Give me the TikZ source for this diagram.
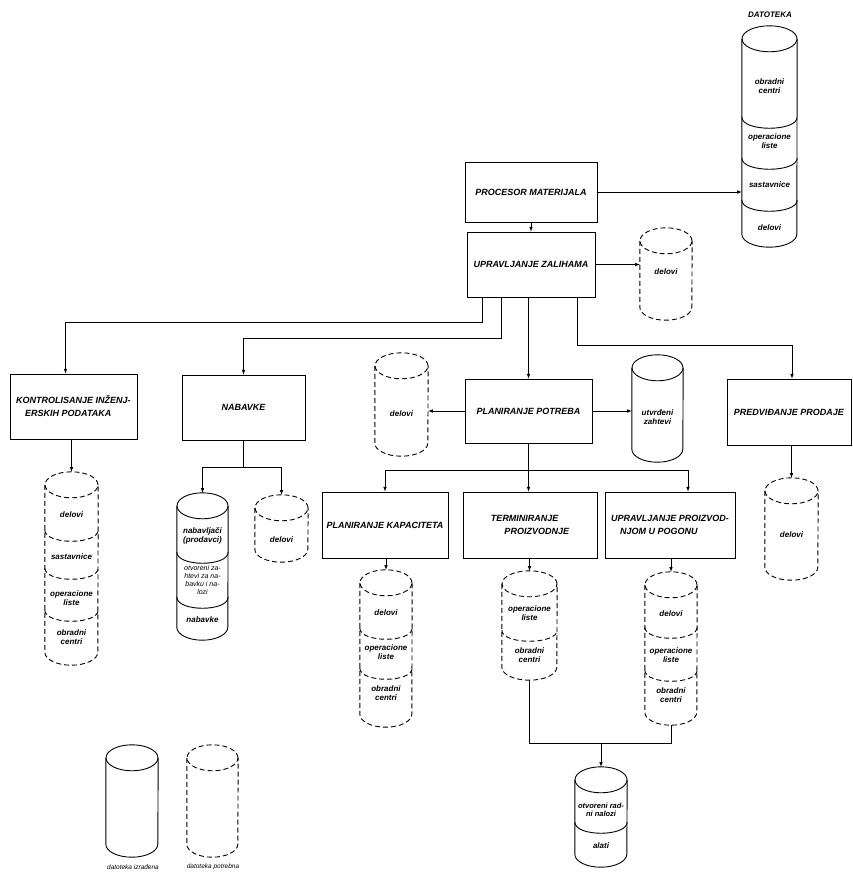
\documentclass[tikz,border=0pt]{standalone}
\usepackage{fontspec}
\setmainfont{Liberation Sans}
\usetikzlibrary{arrows}
\tikzset{blok/.style={draw,line width=0.9pt,inner sep=2pt,align=center,font=\fontsize{9}{13}\selectfont\bfseries\itshape},
veza/.style={line width=0.6pt,-latex},
linija/.style={line width=0.6pt},
upis/.style={inner sep=0pt,align=center,font=\fontsize{8}{9}\selectfont\bfseries\itshape},
sitno/.style={inner sep=0pt,align=center,font=\fontsize{7}{7.8}\selectfont\itshape},
puna/.style={line width=0.9pt},
potr/.style={line width=0.9pt,dash pattern=on 5pt off 3pt}}
\newcommand{\datot}[6]{%
\node[inner sep=0pt,minimum width=#5,minimum height=#4-#3] (#1) at (#2,{-(#3+#4)/2}) {};
\draw[#6] ([yshift=-13]#1.north) ellipse [x radius=#5/2,y radius=13];
\draw[#6] ([yshift=-13]#1.north west) -- ([yshift=13]#1.south west) arc [start angle=180,end angle=360,x radius=#5/2,y radius=13] -- ([yshift=-13]#1.north east);}
\newcommand{\pregrada}[3]{\draw[#3] (#1.west |- 0,-#2) .. controls +(0,-15) and +(0,-15) .. (#1.east |- 0,-#2);}

\begin{document}
\begin{tikzpicture}[x=1pt,y=1pt]
\useasboundingbox (0,0) rectangle (853,-873);

\node[blok,minimum width=132,minimum height=60] (procesor) at (531,-192) {PROCESOR MATERIJALA};
\node[blok,minimum width=128,minimum height=65] (zalihe) at (531,-264.5) {UPRAVLJANJE ZALIHAMA};
\node[blok,minimum width=127,minimum height=65,align=left] (kontrola) at (73.5,-406.5) {KONTROLISANJE INŽENJ-\\\hspace*{1em}ERSKIH PODATAKA};
\node[blok,minimum width=123,minimum height=65] (nabavke) at (243.5,-407.5) {NABAVKE};
\node[blok,minimum width=127,minimum height=64] (potrebe) at (528.5,-411) {PLANIRANJE POTREBA};
\node[blok,minimum width=124,minimum height=66] (prodaja) at (789,-412) {PREDVIĐANJE PRODAJE};
\node[blok,minimum width=126,minimum height=66] (kapacitet) at (385,-525) {PLANIRANJE KAPACITETA};
\node[blok,minimum width=134,minimum height=66,align=left] (termin) at (530,-525) {TERMINIRANJE\\\hspace*{1.5em}PROIZVODNJE};
\node[blok,minimum width=130,minimum height=66,align=left] (pogon) at (670,-525) {UPRAVLJANJE PROIZVOD-\\\hspace*{1em}NJOM U POGONU};

\node[inner sep=0pt,font=\fontsize{8}{9}\selectfont\bfseries\itshape] (naslov) at (770,-15) {DATOTEKA};
\datot{dat}{769.5}{26}{247}{55}{puna}
\pregrada{dat}{117}{puna}
\pregrada{dat}{158}{puna}
\pregrada{dat}{200}{puna}
\node[upis] (dat1) at (769.5,-86) {obradni\\centri};
\node[upis] (dat2) at (769.5,-141) {operacione\\liste};
\node[upis] (dat3) at (769.5,-185) {sastavnice};
\node[upis] (dat4) at (769.5,-228) {delovi};

\datot{zdel}{666}{228}{320}{52}{potr}
\node[upis] (zdel1) at (666,-272) {delovi};

\datot{kdat}{71.5}{472}{665}{53}{potr}
\pregrada{kdat}{530}{potr}
\pregrada{kdat}{568}{potr}
\pregrada{kdat}{610}{potr}
\node[upis] (kdat1) at (71.5,-515) {delovi};
\node[upis] (kdat2) at (71.5,-557) {sastavnice};
\node[upis] (kdat3) at (71.5,-598) {operacione\\liste};
\node[upis] (kdat4) at (71.5,-637) {obradni\\centri};

\datot{ndat}{202.5}{493}{640}{51}{puna}
\pregrada{ndat}{552}{puna}
\pregrada{ndat}{597}{puna}
\node[upis] (ndat1) at (202.5,-536) {nabavljači\\(prodavci)};
\node[sitno] (ndat2) at (202.5,-580) {otvoreni za-\\htevi za na-\\bavku i na-\\lozi};
\node[upis] (ndat3) at (202.5,-620) {nabavke};

\datot{ndel}{281.5}{495}{562}{53}{potr}
\node[upis] (ndel1) at (281.5,-540) {delovi};

\datot{pdel}{401.5}{353}{456}{53}{potr}
\node[upis] (pdel1) at (401.5,-414) {delovi};

\datot{pzaht}{657.5}{355}{462}{51}{puna}
\node[upis] (pzaht1) at (657.5,-417) {utvrđeni\\zahtevi};

\datot{prdel}{791.5}{478}{580}{53}{potr}
\node[upis] (prdel1) at (791.5,-535) {delovi};

\datot{kapdat}{386}{570}{727}{52}{potr}
\pregrada{kapdat}{628}{potr}
\pregrada{kapdat}{668}{potr}
\node[upis] (kapdat1) at (386,-613) {delovi};
\node[upis] (kapdat2) at (386,-652) {operacione\\liste};
\node[upis] (kapdat3) at (386,-693) {obradni\\centri};

\datot{termdat}{529.5}{571}{680}{55}{potr}
\pregrada{termdat}{630}{potr}
\node[upis] (termdat1) at (529.5,-613) {operacione\\liste};
\node[upis] (termdat2) at (529.5,-655) {obradni\\centri};

\datot{pogdat}{671}{572}{725}{52}{potr}
\pregrada{pogdat}{627}{potr}
\pregrada{pogdat}{670}{potr}
\node[upis] (pogdat1) at (671,-614) {delovi};
\node[upis] (pogdat2) at (671,-655) {operacione\\liste};
\node[upis] (pogdat3) at (671,-695) {obradni\\centri};

\datot{alati}{601}{767}{867}{52}{puna}
\pregrada{alati}{822}{puna}
\node[upis,font=\fontsize{7.5}{8.5}\selectfont\bfseries\itshape] (alati1) at (601,-810) {otvoreni rad-\\ni nalozi};
\node[upis] (alati2) at (601,-846) {alati};

\datot{izr}{132}{745}{857}{52}{puna}
\datot{ptr}{212.5}{745}{857}{51}{potr}
\node[sitno,font=\fontsize{6.5}{7}\selectfont\itshape] (izr1) at (133,-867) {datoteka izrađena};
\node[sitno,font=\fontsize{6.5}{7}\selectfont\itshape] (ptr1) at (213,-867) {datoteka potrebna};

\draw[veza] (procesor.east) -- (procesor.east -| dat.west);
\draw[veza] (procesor) -- (zalihe);
\draw[veza] (zalihe.east) -- (zalihe.east -| zdel.west);
\draw[veza] ([xshift=-49]zalihe.south) -- ++(0,-25) -| ([xshift=-8]kontrola.north);
\draw[veza] ([xshift=-30]zalihe.south) -- ++(0,-41) -| (nabavke.north);
\draw[veza] (zalihe.south -| potrebe.north) -- (potrebe.north);
\draw[veza] ([xshift=46]zalihe.south) -- ++(0,-48) -| ([xshift=3]prodaja.north);
\draw[veza] (kontrola.south -| kdat.north) -- (kdat.north);
\draw[linija] (nabavke.south) -- ++(0,-27) coordinate (nb);
\draw[veza] (nb) -| (ndat.north);
\draw[veza] (nb) -| (ndel.north);
\draw[veza] (potrebe.west) -- (potrebe.west -| pdel.east);
\draw[veza] (potrebe.east) -- (potrebe.east -| pzaht.west);
\draw[linija] (potrebe.south) -- ++(0,-27) coordinate (pb);
\draw[veza] (pb) -| (kapacitet.north);
\draw[veza] (pb) -- (pb |- termin.north);
\draw[veza] (pb) -| ([xshift=18]pogon.north);
\draw[veza] (prodaja.south -| prdel.north) -- (prdel.north);
\draw[veza] (kapacitet.south -| kapdat.north) -- (kapdat.north);
\draw[veza] (termin.south -| termdat.north) -- (termdat.north);
\draw[veza] (pogon.south -| pogdat.north) -- (pogdat.north);
\draw[linija] (termdat.south) -- ++(0,-63) coordinate (tb) -| (pogdat.south);
\draw[veza] (tb -| alati.north) -- (alati.north);
\end{tikzpicture}
\end{document}
